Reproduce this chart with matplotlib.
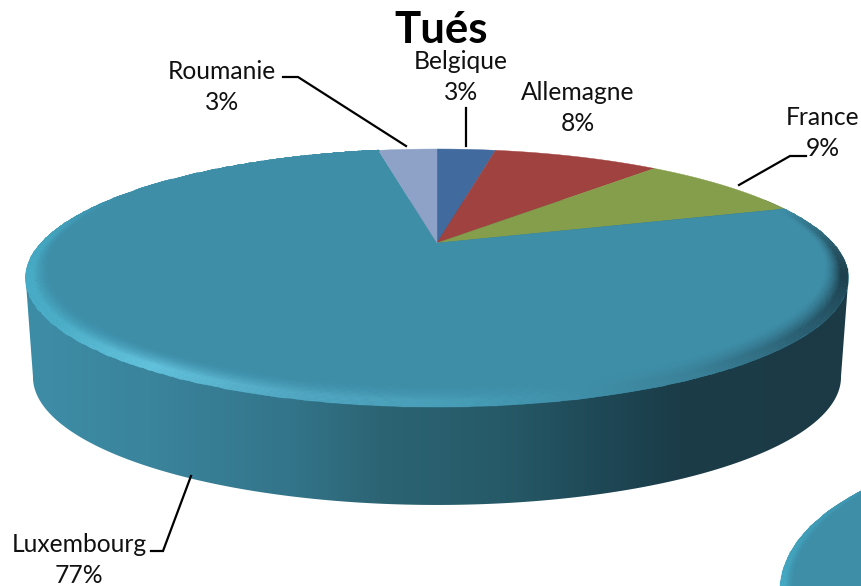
#!/usr/bin/env python3
import numpy as np
import matplotlib
matplotlib.use('Agg')
import matplotlib.pyplot as plt
from matplotlib.colors import to_rgb
from matplotlib.patches import Ellipse, Polygon

title = 'Tués'
countries = ['Belgique', 'Allemagne', 'France', 'Luxembourg', 'Roumanie']
values = [3.0, 8.49, 8.51, 77.0, 3.0]
colors = ['#416a9e', '#a04240', '#849e4b', '#3e8ea8', '#8ea2c8']

FACE = to_rgb('#3e8ea8')

# the tilted disc: unit circle seen in perspective, apex of the slices at (437, 243)
APEX_X, APEX_Y = 437, 243
RX, RY, K = 396, 119.5, 0.2713


def project(s, t):
    d = 1 + K * s * np.sin(t)
    return APEX_X + RX * s * np.cos(t) / d, APEX_Y - RY * s * np.sin(t) / d


def lerp_colors(x, stops):
    xs = [p[0] for p in stops]
    rgb = np.array([to_rgb(p[1]) for p in stops])
    return np.stack([np.interp(x, xs, rgb[:, i]) for i in range(3)], axis=-1)


def rim_width(t):
    sn = np.sin(t)
    return np.where(sn > 0, 0.04 - 0.03 * sn, 0.04 - 0.06 * sn)


def rim_colors(u, outer):
    # goes from the face colour to the outer colour across the bevel
    um = (u[:-1] + u[1:]) / 2
    weight = (np.minimum(um / 0.7, 1) ** 1.6)[:, None, None]
    return np.array(FACE)[None, None, :] * (1 - weight) + outer[None, :, :] * weight


fig = plt.figure(figsize=(8.62, 5.86), dpi=100)
ax = fig.add_axes([0, 0, 1, 1])

# slice angles, clockwise from 12 o'clock
edges = np.radians(90 - 3.6 * np.concatenate([[0], np.cumsum(values)]))

# side wall: horizontal gradient clipped to the disc's swept outline
tt = np.linspace(0, 2 * np.pi, 721)
xt, yt = project(1.0, tt)
xb = 436 + (xt - 436) * 0.982
yb = 377 + (yt - 278) * 0.992
side_stops = [(25, '#3e8da7'), (150, '#3a849c'), (290, '#33758a'), (380, '#2c6474'),
              (500, '#265a68'), (600, '#1f4856'), (680, '#1b3c48'), (850, '#1b3a46')]
xs = np.arange(20, 856)
grad = lerp_colors(xs, side_stops)[np.newaxis, :, :]
im = ax.imshow(grad, extent=(20, 856, 520, 200), aspect='auto', interpolation='bilinear', zorder=1)
il, ir = np.argmin(xt), np.argmax(xt)
outline = np.c_[np.r_[xb[il:ir + 1], xt[ir:], xt[:il + 1]],
                np.r_[yb[il:ir + 1], yt[ir:], yt[:il + 1]]]
clip = Polygon(outline, closed=True, transform=ax.transData)
im.set_clip_path(clip)

# top face
for i, name in enumerate(countries):
    t = np.linspace(edges[i], edges[i + 1], 200)
    x, y = project(1.0, t)
    ax.fill(np.r_[APEX_X, x], np.r_[APEX_Y, y], color=colors[i], lw=0.3, zorder=2)

# bevelled rim of the big slice only
lux = countries.index('Luxembourg')
t_rim = np.linspace(edges[lux], edges[lux + 1], 361)
u = np.linspace(0, 1, 25)
S = 1 - (1 - u[:, None]) * rim_width(t_rim)[None, :]
T = np.tile(t_rim, (len(u), 1))
XR, YR = project(S, T)
deg = np.degrees(t_rim[:-1] + t_rim[1:]) / 2  # goes from about 18 down to -260
rim_stops = [(-262, '#3e8ea8'), (-205, '#3e8fa9'), (-180, '#45a8c2'), (-145, '#4db0ca'),
             (-125, '#66c6e0'), (-105, '#52a8c2'), (-85, '#459ab4'), (-60, '#3a8198'),
             (-40, '#2b5f72'), (-15, '#1d3f4c'), (-5, '#264f5e'), (5, '#2f6a7d'), (18, '#3e8ea8')]
ax.pcolormesh(XR, YR, rim_colors(u, lerp_colors(deg, rim_stops)), edgecolors='face',
              linewidth=0.2, antialiased=True, zorder=3)

# next chart's pie, cut by the frame
ax.add_patch(Ellipse((1080, 590), 600, 290, color=FACE, lw=0, zorder=2))
t2 = np.radians(np.linspace(100, 230, 131))
w2 = np.interp(np.degrees(t2), [100, 135, 180, 230], [0.012, 0.02, 0.05, 0.05])
S2 = 1 - (1 - u[:, None]) * w2[None, :]
X2 = 1080 + 300 * S2 * np.cos(t2)
Y2 = 590 - 145 * S2 * np.sin(t2)
outer2 = lerp_colors((np.degrees(t2[:-1]) + np.degrees(t2[1:])) / 2,
                     [(100, '#3e8ea8'), (140, '#3f96b0'), (175, '#45a9c3'), (230, '#45a9c3')])
ax.pcolormesh(X2, Y2, rim_colors(u, outer2), edgecolors='face', linewidth=0.2,
              antialiased=True, zorder=3)

# text
pct = [f'{round(v)}%' for v in values]
label_pos = {'Belgique': (461, 77), 'Allemagne': (578, 108), 'France': (823, 133),
             'Luxembourg': (79, 560), 'Roumanie': (222, 87)}
for name, p in zip(countries, pct):
    x, y = label_pos[name]
    ax.text(x, y, f'{name}\n{p}', ha='center', va='center', family='Lato', fontsize=17.7,
            color='#111111', linespacing=1.46, zorder=5)
ax.text(441, 30, title, ha='center', va='center', family='Lato', weight='bold',
        fontsize=31.5, color='#000000', zorder=5)

# leader lines
leaders = [([283, 298, 406], [77, 77, 146]),
           ([466, 466], [108, 146]),
           ([806, 790, 739], [156, 156, 185]),
           ([151, 163, 191], [551, 551, 476])]
for lx, ly in leaders:
    ax.plot(lx, ly, color='black', lw=1.6, solid_joinstyle='miter', zorder=4)

ax.set_xlim(0, 862)
ax.set_ylim(586, 0)
ax.axis('off')

fig.savefig('out.png', dpi=100)
